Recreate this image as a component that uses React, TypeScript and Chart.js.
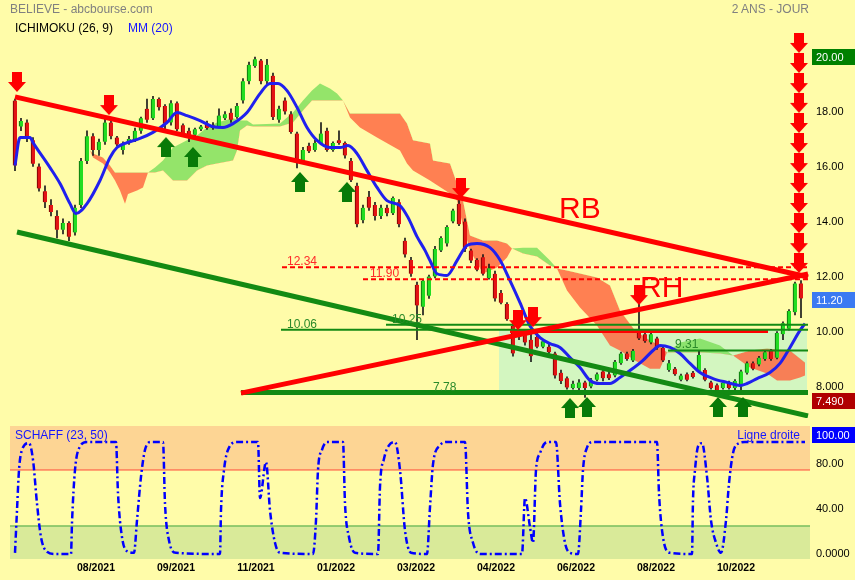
import React, { useEffect, useRef } from 'react';
import { Chart, registerables } from 'chart.js';

Chart.register(...registerables);

const BG = '#fffca9';
const FONT = 'Arial, "Liberation Sans", sans-serif';

// ---------- X axis (trading-day index) ----------
const X_TICK_DAYS = [43, 83, 123, 163, 203, 243, 283, 323, 363];
const X_TICK_LABELS = ['08/2021', '09/2021', '11/2021', '01/2022', '03/2022', '04/2022', '06/2022', '08/2022', '10/2022'];

// ---------- Candles (one every 3 sessions) ----------
const CANDLE_START = 2.5;
const CANDLE_STEP = 3;
const OPEN = [
  18.40, 17.45, 17.60, 16.95, 16.00, 15.10, 14.60, 14.20, 13.70, 13.95,
  13.60, 14.60, 16.20, 17.10, 16.60, 16.90, 17.60, 17.05, 16.60, 16.85,
  17.00, 17.30, 18.10, 17.75, 18.45, 18.20, 17.60, 18.30, 17.50, 17.30,
  17.15, 17.35, 17.55, 17.50, 17.45, 17.75, 17.95, 17.80, 18.40, 19.10,
  19.65, 19.85, 19.10, 19.30, 17.70, 18.40, 17.90, 17.20, 16.20, 16.75,
  16.60, 16.85, 17.30, 16.60, 16.95, 16.85, 16.20, 15.30, 14.05, 14.90,
  14.60, 14.20, 14.50, 14.30, 14.70, 13.30, 12.60, 11.70, 10.90, 11.30,
  12.00, 12.95, 13.20, 14.00, 14.65, 14.00, 12.95, 12.60, 12.70, 11.95,
  12.10, 11.40, 11.00, 10.20, 9.80, 9.90, 9.70, 9.80, 9.45, 9.45,
  9.20, 8.50, 8.30, 7.95, 7.95, 8.15, 8.00, 8.25, 8.55, 8.45,
  8.40, 8.85, 9.20, 8.95, 10.00, 9.90, 9.60, 9.75, 9.40, 8.60,
  8.65, 8.25, 8.45, 8.50, 8.55, 8.60, 8.15, 8.05, 7.95, 8.15,
  7.95, 8.00, 8.50, 8.85, 8.80, 9.00, 9.30, 9.05, 9.90, 10.10,
  10.70, 11.75,
];
const HIGH = [
  18.45, 17.75, 17.70, 17.05, 16.10, 15.30, 14.80, 14.40, 14.10, 14.00,
  14.60, 16.30, 17.30, 17.20, 17.00, 17.80, 17.70, 17.10, 16.90, 17.10,
  17.40, 17.80, 18.45, 18.55, 18.50, 18.25, 18.40, 18.35, 17.55, 17.40,
  17.40, 17.50, 17.65, 17.60, 18.10, 18.00, 18.10, 18.30, 19.20, 19.80,
  19.98, 19.90, 19.90, 19.40, 18.20, 18.50, 18.00, 17.25, 16.70, 16.85,
  16.95, 17.60, 17.40, 16.90, 17.30, 16.90, 16.30, 15.40, 14.60, 15.10,
  14.70, 14.60, 14.60, 14.90, 14.80, 13.40, 12.70, 11.80, 11.90, 12.05,
  13.10, 13.45, 13.85, 14.45, 14.90, 14.10, 13.00, 12.65, 12.80, 12.45,
  12.20, 11.50, 11.05, 10.30, 10.00, 10.00, 9.90, 9.95, 9.70, 9.55,
  9.25, 8.60, 8.35, 8.20, 8.25, 8.20, 8.30, 8.50, 8.60, 8.55,
  8.95, 9.25, 9.25, 9.35, 11.00, 10.00, 9.95, 9.80, 9.45, 8.95,
  8.70, 8.45, 8.50, 8.55, 9.30, 8.65, 8.20, 8.10, 8.20, 8.20,
  8.25, 8.60, 8.90, 8.90, 9.10, 9.30, 9.35, 10.00, 10.35, 10.80,
  11.80, 11.85,
];
const LOW = [
  15.85, 17.30, 16.90, 16.00, 15.10, 14.50, 14.20, 13.40, 13.55, 13.30,
  13.50, 14.50, 16.10, 16.40, 16.40, 16.80, 17.00, 16.75, 16.45, 16.80,
  16.90, 17.20, 17.60, 17.70, 18.05, 17.25, 17.50, 17.30, 17.10, 16.90,
  17.10, 17.30, 17.35, 17.35, 17.40, 17.70, 17.60, 17.75, 18.30, 19.00,
  19.60, 19.00, 19.00, 17.70, 17.60, 17.90, 17.20, 15.95, 16.10, 16.50,
  16.55, 16.80, 16.55, 16.55, 16.80, 16.30, 15.45, 13.80, 13.95, 14.40,
  14.05, 14.10, 14.20, 14.25, 13.80, 12.70, 12.00, 9.70, 10.60, 11.20,
  11.95, 12.90, 13.10, 13.95, 13.85, 12.90, 12.50, 12.20, 12.05, 11.90,
  11.10, 11.00, 10.40, 9.10, 9.70, 9.50, 8.90, 9.40, 9.40, 9.20,
  8.30, 8.10, 7.90, 7.90, 7.85, 7.60, 7.95, 8.20, 8.20, 8.25,
  8.35, 8.80, 8.95, 8.90, 9.70, 9.60, 9.55, 9.35, 8.90, 8.55,
  8.40, 8.20, 8.20, 8.30, 8.50, 8.20, 7.90, 7.80, 7.90, 7.90,
  7.80, 7.78, 8.45, 8.60, 8.75, 8.95, 8.95, 9.00, 9.70, 10.05,
  10.60, 10.50,
];
const CLOSE = [
  16.04, 17.65, 17.00, 16.10, 15.20, 14.70, 14.35, 13.70, 13.95, 13.45,
  14.50, 16.20, 17.10, 16.60, 16.90, 17.60, 17.10, 16.80, 16.80, 17.00,
  17.30, 17.75, 17.70, 18.45, 18.15, 17.55, 18.30, 17.35, 17.20, 17.05,
  17.35, 17.45, 17.40, 17.40, 17.85, 17.90, 17.70, 18.20, 19.10, 19.70,
  19.90, 19.10, 19.70, 17.80, 18.10, 18.00, 17.25, 16.20, 16.60, 16.55,
  16.85, 17.20, 16.60, 16.85, 16.85, 16.40, 15.50, 13.90, 14.50, 14.50,
  14.20, 14.50, 14.30, 14.85, 13.90, 12.80, 12.10, 10.95, 11.85, 12.00,
  13.00, 13.40, 13.80, 14.40, 13.90, 13.00, 12.58, 12.25, 12.10, 12.30,
  11.20, 11.05, 10.45, 9.20, 9.95, 9.60, 9.10, 9.45, 9.65, 9.25,
  8.40, 8.20, 7.96, 8.10, 8.15, 7.95, 8.25, 8.45, 8.30, 8.30,
  8.90, 9.20, 9.00, 9.30, 9.75, 9.65, 9.90, 9.40, 8.95, 8.85,
  8.45, 8.40, 8.25, 8.35, 9.15, 8.25, 7.95, 7.85, 8.15, 7.95,
  8.20, 8.55, 8.85, 8.65, 9.05, 9.25, 9.00, 9.95, 10.30, 10.75,
  11.75, 11.20,
];

// ---------- MM(20) ----------
const MM_DAYS = [2.5, 5, 10, 11.5, 20, 25, 30, 33, 38.5, 45, 50, 53.5, 58.5, 65, 71.5, 78.5, 83.5, 88.5, 95, 101.5,
  106.5, 111.5, 118.5, 125, 130, 134, 138.5, 143.5, 148.5, 153.5, 160, 165, 169, 173.5, 178.5, 183.5, 188.5, 195, 199, 203.5,
  207.5, 210, 213.5, 218.5, 223.5, 228.5, 233.5, 240, 245, 250, 255, 260, 265, 270, 275, 280, 285, 290, 295, 300,
  305, 310, 316.5, 321.5, 325, 330, 335, 340, 345, 351.5, 358.5, 365, 368.5, 373.5, 380, 385, 390, 395, 397.5];
const MM_VALUES = [16.04, 17.05, 17.05, 16.87, 15.96, 15.38, 14.65, 14.29, 14.65, 15.49, 16.33, 16.69, 16.87, 17.02, 17.24, 17.6, 17.96, 17.85, 17.67, 17.45,
  17.42, 17.56, 17.96, 18.65, 19.02, 19.02, 18.76, 18.15, 17.42, 16.95, 16.69, 16.69, 16.76, 16.47, 15.85, 15.24, 14.76, 14.58, 14.15, 13.45,
  12.95, 12.58, 12.1, 12.04, 12.58, 13.13, 13.2, 13.05, 12.6, 11.85, 11.05, 10.2, 9.78, 9.56, 9.42, 9.05, 8.69, 8.22, 8.11, 8.11,
  8.33, 8.58, 8.95, 9.31, 9.49, 9.42, 9.2, 8.84, 8.51, 8.29, 8.15, 8.04, 8.11, 8.29, 8.51, 8.84, 9.42, 10.04, 10.29];

// ---------- Ichimoku cloud ----------
const CLOUD_DAYS = [40, 41.5, 46.5, 50, 52.5, 55, 57.5, 59, 63.5, 66.5, 69, 72.5, 76.5, 81.5, 88.5, 93.5, 98.5, 103.5, 111.5, 113.5,
  115, 118.5, 121.5, 135, 141.5, 146.5, 151, 155, 160, 163.5, 166.5, 170, 175, 183.5, 195, 198.5, 201.5, 210, 211.5, 220,
  223.5, 226.5, 230, 236.5, 243.5, 248.5, 251, 256.5, 263.5, 270, 273.5, 278.5, 285, 293.5, 300, 305, 312.5, 320, 325, 328.5,
  335, 345, 355, 361.5, 370, 378.5, 383.5, 390, 395, 397.5];
const SPAN_A = [16.58, 16.33, 16.11, 15.78, 15.49, 15.13, 14.65, 15.0, 15.13, 15.24, 15.78, 15.96, 16.22, 16.69, 16.95, 17.13, 17.42, 17.6, 17.75, 17.71,
  17.67, 17.67, 17.53, 17.56, 17.96, 18.4, 18.76, 19.02, 18.84, 18.65, 18.4, 17.78, 17.42, 17.05, 16.58, 16.11, 15.85, 15.49, 15.42, 15.02,
  14.76, 13.85, 12.95, 12.11, 12.33, 12.69, 13.02, 13.05, 13.05, 12.58, 12.29, 11.49, 10.87, 10.22, 9.49, 9.31, 8.95, 8.65, 8.65, 9.24,
  9.6, 9.75, 9.49, 9.13, 8.69, 8.47, 8.22, 8.22, 8.33, 8.4];
const SPAN_B = [16.58, 16.47, 16.33, 16.04, 15.78, 15.78, 15.78, 15.78, 15.78, 15.78, 15.78, 15.78, 15.85, 15.49, 15.49, 15.85, 16.04, 16.11, 16.22, 16.58,
  17.31, 17.49, 17.45, 17.45, 17.6, 18.04, 18.4, 18.4, 18.4, 18.4, 18.4, 17.93, 17.93, 17.93, 17.93, 17.56, 16.95, 16.84, 16.22, 16.11,
  15.38, 14.76, 13.49, 13.31, 13.31, 13.2, 13.02, 12.84, 12.73, 12.4, 12.29, 12.22, 12.11, 11.96, 11.67, 10.76, 10.04, 9.67, 9.49, 9.24,
  9.24, 9.24, 9.2, 9.13, 9.31, 9.38, 9.35, 9.31, 9.02, 8.87];

// ---------- Horizontal levels ----------
const HLINE_VALUES = [12.34, 11.90, 10.25, 10.06, 10.00, 9.31, 7.78];
const HLINE_FROM = [136, 176.5, 188, 135.5, 250, 329, 115.5];
const HLINE_TO = [399, 399, 399, 399, 379, 399, 399];
const HLINE_LABELS = ['12.34', '11.90', '10.25', '10.06', '', '9.31', '7.78'];
const HLINE_LABEL_DAYS = [138.5, 180, 191, 138.5, 0, 332.5, 211.5];

// ---------- Trend lines (RB, RH, support) ----------
const TREND_FROM_DAYS = [2.5, 115.5, 3.5];
const TREND_FROM_VALUES = [18.53, 7.76, 13.62];
const TREND_TO_DAYS = [399, 399, 399];
const TREND_TO_VALUES = [11.98, 12.09, 6.93];

const BIG_LABELS = ['RB', 'RH'];
const BIG_LABEL_DAYS = [274.5, 315];
const BIG_LABEL_VALUES = [14.13, 11.25];

// ---------- Shaded support zone ----------
const ZONE_FROM = 244.5;
const ZONE_TO = 398.5;
const ZONE_TOP = 10.06;
const ZONE_BOTTOM = 7.78;

// ---------- Arrows (tip positions) ----------
const DOWN_ARROW_DAYS = [3.5, 49.5, 225.5, 254, 261.5, 314.5, 394.5, 394.5, 394.5, 394.5, 394.5, 394.5, 394.5, 394.5, 394.5, 394.5, 394.5, 394.5];
const DOWN_ARROW_VALUES = [18.71, 17.87, 14.85, 10.05, 10.16, 10.96, 20.13, 19.4, 18.67, 17.95, 17.22, 16.49, 15.76, 15.04, 14.31, 13.58, 12.85, 12.13];
const UP_ARROW_DAYS = [78, 91.5, 145, 168.5, 280, 288.5, 354, 366.5];
const UP_ARROW_VALUES = [17.07, 16.71, 15.8, 15.44, 7.58, 7.62, 7.62, 7.62];

// ---------- Price axis ----------
const Y_MIN = 6.855;
const Y_MAX = 21.036;
const Y_TICKS = [8, 10, 12, 14, 16, 18];
const Y_TICK_LABELS = ['8.000', '10.00', '12.00', '14.00', '16.00', '18.00'];
const MAIN_BOX_VALUES = [20, 11.2, 7.49];
const MAIN_BOX_LABELS = ['20.00', '11.20', '7.490'];

// ---------- Schaff (23, 50) ----------
const SCHAFF_DAYS = [2.5, 3.5, 4.5, 6, 9.5, 11.5, 13.5, 15.5, 18.5, 22.5, 30.5, 31, 32.5, 35, 38.5, 53, 54, 56, 59, 62,
  63.5, 65.5, 67.5, 70.5, 76.5, 77.5, 79.5, 83, 105, 105.5, 107, 109.5, 113.5, 124, 125, 128, 130, 132.5, 135, 151.5,
  153, 154, 156, 158.5, 166.5, 167.5, 169.5, 172.5, 184, 185, 187, 189.5, 192.5, 195, 197.5, 200.5, 208.5, 210, 211.5, 215,
  218.5, 227.5, 229, 231.5, 235, 256, 257.5, 260, 261.5, 263, 265, 267.5, 270, 273, 275, 277.5, 280, 284, 285.5, 286.5,
  288.5, 291.5, 323.5, 324.5, 326.5, 330, 341, 341.5, 342.5, 344, 346, 348.5, 350.5, 353, 355.5, 358, 359.5, 361.5, 364.5, 367.5,
  397.5];
const SCHAFF_VALUES = [1, 39, 75, 93, 99, 84, 45, 15, 2, 0, 0, 28, 75, 96, 100, 100, 54, 15, 2, 1,
  30, 69, 93, 100, 100, 45, 12, 1, 0, 39, 75, 95, 100, 100, 50, 82, 39, 10, 1, 0,
  30, 75, 93, 100, 100, 45, 15, 1, 0, 60, 85, 97, 100, 75, 21, 1, 0, 42, 80, 97,
  100, 100, 37, 10, 0, 0, 50, 24, 10, 75, 90, 99, 100, 100, 45, 10, 1, 0, 39, 75,
  95, 100, 100, 54, 15, 1, 0, 48, 75, 96, 99, 69, 30, 10, 1, 30, 63, 90, 99, 100,
  100];
const SCHAFF_HIGH = 75;
const SCHAFF_LOW = 25;
const S_MIN = -4.5;
const S_MAX = 114.3;
const S_TICKS = [0, 40, 80];
const S_TICK_LABELS = ['0.0000', '40.00', '80.00'];
const LOW_BOX_VALUES = [100];
const LOW_BOX_LABELS = ['100.00'];

// ---------- Styles ----------
const RED = '#ff0000';
const DGREEN = '#138a13';
const HLINE_COLORS = [RED, RED, DGREEN, DGREEN, RED, DGREEN, DGREEN];
const HLINE_WIDTHS = [2, 2, 2, 2, 3, 2, 5];
const HLINE_DASHES = [[5, 3], [5, 3], [], [], [], [], []];
const HLINE_LABEL_COLORS = ['#ff2a2a', '#ff2a2a', '#2b8a2b', '#2b8a2b', RED, '#2b8a2b', '#2b8a2b'];
const TREND_COLORS = [RED, RED, DGREEN];
const MAIN_BOX_COLORS = ['#008000', '#3b7af2', '#b00000'];
const MAIN_BOX_NUDGE = [1, 1, 0];
const LOW_BOX_COLORS = ['#0000ff'];
const LOW_BOX_NUDGE = [-7];

function makeArrow(color: string, down: boolean) {
  const W = 18, H = 20, cx = 9, sw = 5, hh = 10;
  const c = document.createElement('canvas');
  c.width = W;
  c.height = H * 2;
  const g = c.getContext('2d') as CanvasRenderingContext2D;
  g.fillStyle = color;
  g.beginPath();
  if (down) {
    g.moveTo(cx - sw, 0); g.lineTo(cx + sw, 0); g.lineTo(cx + sw, H - hh); g.lineTo(W, H - hh);
    g.lineTo(cx, H); g.lineTo(0, H - hh); g.lineTo(cx - sw, H - hh);
  } else {
    g.moveTo(cx, H); g.lineTo(W, H + hh); g.lineTo(cx + sw, H + hh); g.lineTo(cx + sw, 2 * H);
    g.lineTo(cx - sw, 2 * H); g.lineTo(cx - sw, H + hh); g.lineTo(0, H + hh);
  }
  g.closePath();
  g.fill();
  return c;
}

function boxPlugin(id: string, values: number[], labels: string[], colors: string[], nudges: number[]) {
  return {
    id,
    afterDraw(chart: any) {
      const { ctx, chartArea } = chart;
      const y = chart.scales.y;
      ctx.save();
      ctx.font = `11px ${FONT}`;
      ctx.textBaseline = 'middle';
      ctx.textAlign = 'left';
      values.forEach((v, i) => {
        const py = Math.round(y.getPixelForValue(v) + nudges[i]);
        ctx.fillStyle = colors[i];
        ctx.fillRect(chartArea.right + 2, py - 8, chart.width - chartArea.right - 2, 16);
        ctx.fillStyle = '#ffffff';
        ctx.fillText(labels[i], chartArea.right + 6, py + 0.5);
      });
      ctx.restore();
    },
  };
}

const annotPlugin = {
  id: 'annot',
  afterDatasetsDraw(chart: any) {
    const { ctx } = chart;
    const x = chart.scales.x;
    const y = chart.scales.y;
    ctx.save();
    ctx.font = `12px ${FONT}`;
    ctx.textAlign = 'left';
    ctx.textBaseline = 'alphabetic';
    HLINE_LABELS.forEach((t, i) => {
      if (!t) return;
      ctx.fillStyle = HLINE_LABEL_COLORS[i];
      ctx.fillText(t, x.getPixelForValue(HLINE_LABEL_DAYS[i]), y.getPixelForValue(HLINE_VALUES[i]) - 2);
    });
    ctx.font = `30px ${FONT}`;
    ctx.fillStyle = RED;
    BIG_LABELS.forEach((t, i) => {
      ctx.fillText(t, x.getPixelForValue(BIG_LABEL_DAYS[i]), y.getPixelForValue(BIG_LABEL_VALUES[i]));
    });
    ctx.restore();
  },
};

const noPad = (a: any) => {
  a.paddingTop = 0;
  a.paddingBottom = 0;
  a.paddingLeft = 0;
  a.paddingRight = 0;
};

function mainConfig(): any {
  const downImg = makeArrow('#ff0000', true);
  const upImg = makeArrow('#087a08', false);
  const days = OPEN.map((_, i) => CANDLE_START + CANDLE_STEP * i);
  const up = OPEN.map((o, i) => CLOSE[i] >= o);
  const ds: any[] = [];
  ds.push({
    type: 'line', data: DOWN_ARROW_DAYS.map((d, i) => ({ x: d, y: DOWN_ARROW_VALUES[i] })),
    showLine: false, pointStyle: downImg, pointRadius: 5, clip: false, order: 1,
  });
  ds.push({
    type: 'line', data: UP_ARROW_DAYS.map((d, i) => ({ x: d, y: UP_ARROW_VALUES[i] })),
    showLine: false, pointStyle: upImg, pointRadius: 5, clip: false, order: 1,
  });
  TREND_FROM_DAYS.forEach((d, i) => {
    ds.push({
      type: 'line',
      data: [{ x: d, y: TREND_FROM_VALUES[i] }, { x: TREND_TO_DAYS[i], y: TREND_TO_VALUES[i] }],
      borderColor: TREND_COLORS[i], borderWidth: 5, pointRadius: 0, fill: false, order: 2,
    });
  });
  HLINE_VALUES.forEach((v, i) => {
    ds.push({
      type: 'line',
      data: [{ x: HLINE_FROM[i], y: v }, { x: HLINE_TO[i], y: v }],
      borderColor: HLINE_COLORS[i], borderWidth: HLINE_WIDTHS[i], borderDash: HLINE_DASHES[i],
      pointRadius: 0, fill: false, order: 3,
    });
  });
  ds.push({
    type: 'line', data: MM_DAYS.map((d, i) => ({ x: d, y: MM_VALUES[i] })),
    borderColor: '#2020ee', borderWidth: 3, pointRadius: 0, fill: false,
    cubicInterpolationMode: 'monotone', order: 4,
  });
  ds.push({
    type: 'bar', data: days.map((d, i) => ({ x: d, y: [OPEN[i], CLOSE[i]] })),
    backgroundColor: up.map((u) => (u ? '#22dd22' : '#e31414')),
    borderColor: up.map((u) => (u ? '#0a5f0a' : '#6a0000')),
    borderWidth: { left: 1, right: 0, top: 0, bottom: 0 }, borderSkipped: false,
    barThickness: 4, grouped: false, minBarLength: 1, order: 5,
  });
  ds.push({
    type: 'bar', data: days.map((d, i) => ({ x: d, y: [LOW[i], HIGH[i]] })),
    backgroundColor: '#1a1a1a', borderWidth: 0, barThickness: 1, grouped: false, order: 6,
  });
  const idxB = ds.length + 1;
  ds.push({
    type: 'line', data: CLOUD_DAYS.map((d, i) => ({ x: d, y: SPAN_A[i] })),
    borderColor: 'rgba(0,0,0,0)', borderWidth: 0, pointRadius: 0,
    fill: { target: idxB, above: 'rgba(125,222,92,0.82)', below: 'rgba(255,100,62,0.82)' }, order: 7,
  });
  ds.push({
    type: 'line', data: CLOUD_DAYS.map((d, i) => ({ x: d, y: SPAN_B[i] })),
    borderColor: 'rgba(0,0,0,0)', borderWidth: 0, pointRadius: 0, fill: false, order: 7,
  });
  ds.push({
    type: 'line', data: [{ x: ZONE_FROM, y: ZONE_TOP }, { x: ZONE_TO, y: ZONE_TOP }],
    borderColor: 'rgba(0,0,0,0)', borderWidth: 0, pointRadius: 0,
    fill: { value: ZONE_BOTTOM }, backgroundColor: '#d3f6c0', order: 9,
  });

  return {
    type: 'line',
    data: { datasets: ds },
    plugins: [annotPlugin, boxPlugin('mainBoxes', MAIN_BOX_VALUES, MAIN_BOX_LABELS, MAIN_BOX_COLORS, MAIN_BOX_NUDGE)],
    options: {
      responsive: false,
      animation: false,
      events: [],
      layout: { padding: { left: 10, top: 28, bottom: 2, right: 0 } },
      plugins: { legend: { display: false }, tooltip: { enabled: false } },
      scales: {
        x: { type: 'linear', min: 0, max: 400, display: false, offset: false, grid: { offset: false } },
        y: {
          type: 'linear', position: 'right', min: Y_MIN, max: Y_MAX,
          grid: { display: false, drawTicks: false }, border: { display: false },
          afterBuildTicks: (a: any) => { a.ticks = Y_TICKS.map((v) => ({ value: v })); },
          afterFit: (a: any) => { a.width = 45; noPad(a); },
          ticks: {
            padding: 6, color: '#000', font: { size: 11, family: FONT },
            callback: (_v: any, i: number) => Y_TICK_LABELS[i],
          },
        },
      },
    },
  };
}

function lowConfig(): any {
  return {
    type: 'line',
    data: {
      datasets: [
        {
          data: SCHAFF_DAYS.map((d, i) => ({ x: d, y: SCHAFF_VALUES[i] })),
          borderColor: '#0000ff', borderWidth: 2.5, borderDash: [7, 3, 2, 3],
          pointRadius: 0, fill: false, cubicInterpolationMode: 'monotone', order: 1,
        },
        {
          data: [{ x: 0, y: SCHAFF_HIGH }, { x: 400, y: SCHAFF_HIGH }],
          borderColor: '#ff4a3a', borderWidth: 1, pointRadius: 0, fill: 'end',
          backgroundColor: '#fdd594', order: 2,
        },
        {
          data: [{ x: 0, y: SCHAFF_LOW }, { x: 400, y: SCHAFF_LOW }],
          borderColor: '#3ea33e', borderWidth: 1, pointRadius: 0, fill: 'start',
          backgroundColor: '#d9ea99', order: 2,
        },
      ],
    },
    plugins: [boxPlugin('lowBoxes', LOW_BOX_VALUES, LOW_BOX_LABELS, LOW_BOX_COLORS, LOW_BOX_NUDGE)],
    options: {
      responsive: false,
      animation: false,
      events: [],
      layout: { padding: { left: 10, top: 6, bottom: 0, right: 0 } },
      plugins: { legend: { display: false }, tooltip: { enabled: false } },
      scales: {
        x: {
          type: 'linear', min: 0, max: 400, offset: false,
          grid: { display: false, drawTicks: false }, border: { display: false },
          afterBuildTicks: (a: any) => { a.ticks = X_TICK_DAYS.map((v) => ({ value: v })); },
          afterFit: (a: any) => { a.height = 21; noPad(a); },
          ticks: {
            autoSkip: false, maxRotation: 0, padding: 3, color: '#000',
            font: { size: 10.5, weight: 'bold', family: FONT },
            callback: (_v: any, i: number) => X_TICK_LABELS[i],
          },
        },
        y: {
          type: 'linear', position: 'right', min: S_MIN, max: S_MAX,
          grid: { display: false, drawTicks: false }, border: { display: false },
          afterBuildTicks: (a: any) => { a.ticks = S_TICKS.map((v) => ({ value: v })); },
          afterFit: (a: any) => { a.width = 45; noPad(a); },
          ticks: {
            padding: 6, color: '#000', font: { size: 11, family: FONT },
            callback: (_v: any, i: number) => S_TICK_LABELS[i],
          },
        },
      },
    },
  };
}

const textStyle: any = { position: 'absolute', fontSize: 12, lineHeight: '14px', whiteSpace: 'nowrap', fontFamily: FONT };

export default function App() {
  const mainRef = useRef<HTMLCanvasElement>(null);
  const lowRef = useRef<HTMLCanvasElement>(null);

  useEffect(() => {
    const c1 = new Chart(mainRef.current as HTMLCanvasElement, mainConfig());
    const c2 = new Chart(lowRef.current as HTMLCanvasElement, lowConfig());
    return () => {
      c1.destroy();
      c2.destroy();
    };
  }, []);

  return (
    <div style={{ position: 'absolute', left: 0, top: 0, width: 855, height: 580, background: BG, overflow: 'hidden', fontFamily: FONT }}>
      <canvas ref={mainRef} width={855} height={424} style={{ position: 'absolute', left: 0, top: 0 }} />
      <canvas ref={lowRef} width={855} height={160} style={{ position: 'absolute', left: 0, top: 420 }} />
      <div style={{ ...textStyle, left: 10, top: 2, color: '#808080' }}>BELIEVE - abcbourse.com</div>
      <div style={{ ...textStyle, right: 46, top: 2, color: '#808080' }}>2 ANS - JOUR</div>
      <div style={{ ...textStyle, left: 15, top: 21, color: '#000' }}>ICHIMOKU (26, 9)</div>
      <div style={{ ...textStyle, left: 128, top: 21, color: '#1515ff' }}>MM (20)</div>
      <div style={{ ...textStyle, left: 15, top: 428, color: '#1515ff' }}>SCHAFF (23, 50)</div>
      <div style={{ ...textStyle, right: 55, top: 428, color: '#1515ff' }}>Ligne droite</div>
    </div>
  );
}
